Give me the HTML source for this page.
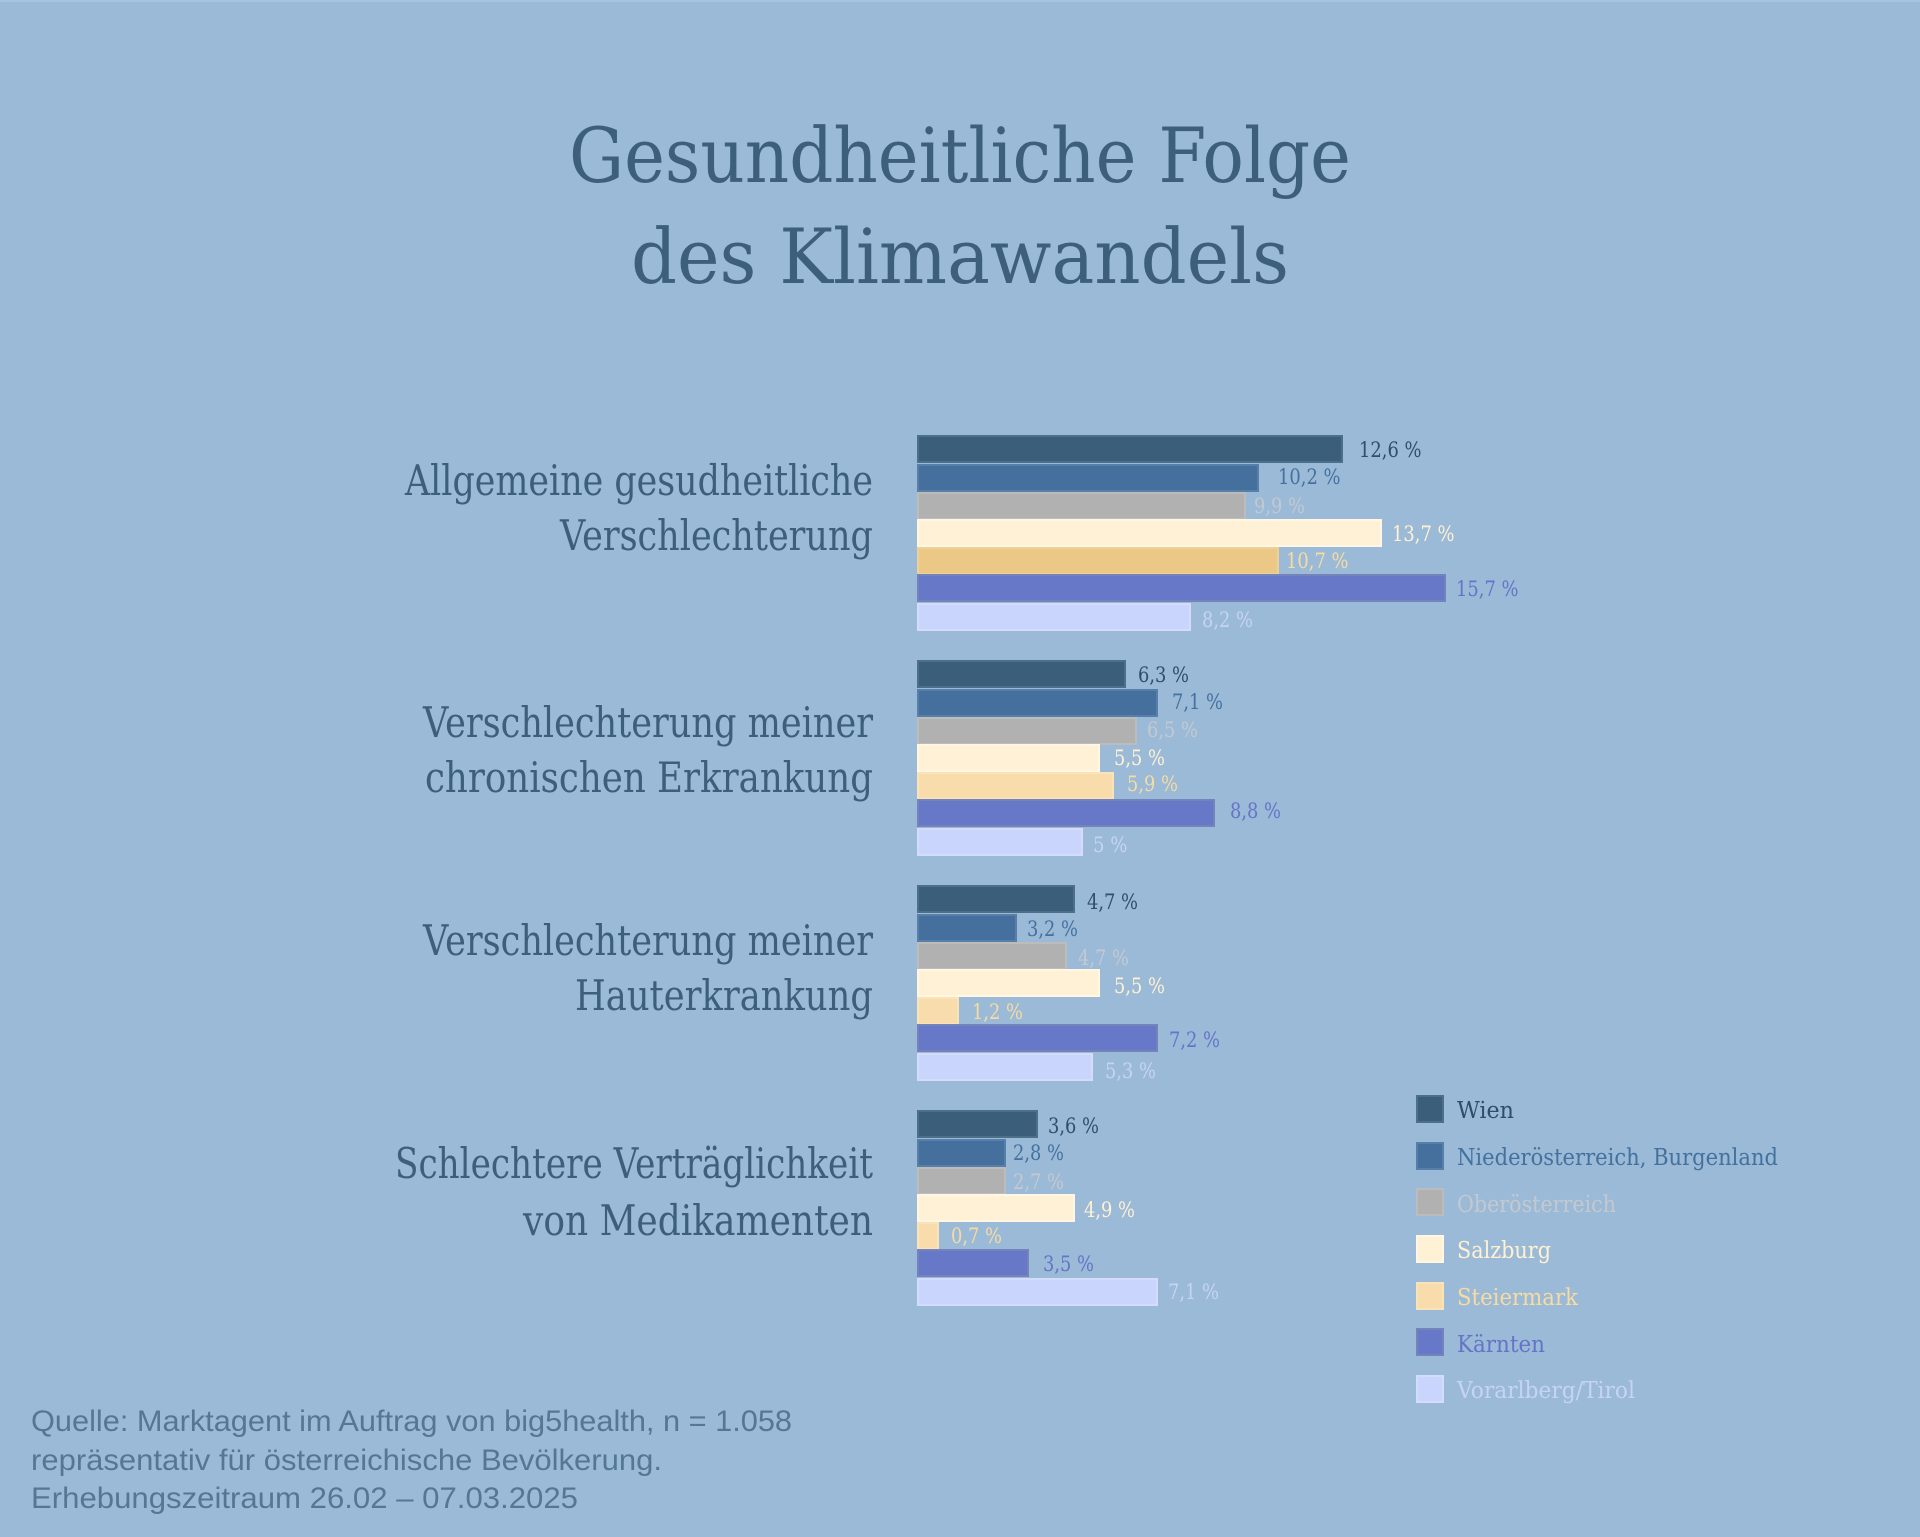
<!DOCTYPE html>
<html><head><meta charset="utf-8"><style>
html,body{margin:0;padding:0;background:#9bbad7;}
svg{display:block;}
</style></head><body>
<svg width="1920" height="1537" viewBox="0 0 1920 1537" xmlns="http://www.w3.org/2000/svg">
<rect x="0" y="0" width="1920" height="1537" fill="#9bbad7"/>
<rect x="0" y="0" width="1920" height="2" fill="#a9c4de"/>
<g font-family="'DejaVu Serif','Liberation Serif',serif" fill="#3e5f7b">
<text x="569" y="182" font-size="76" textLength="782" lengthAdjust="spacingAndGlyphs">Gesundheitliche Folge</text>
<text x="631" y="283" font-size="76" textLength="658" lengthAdjust="spacingAndGlyphs">des Klimawandels</text>
</g>
<g font-family="'DejaVu Serif','Liberation Serif',serif" fill="#3e5f7b" font-size="42">
<text x="405" y="495" textLength="468" lengthAdjust="spacingAndGlyphs">Allgemeine gesudheitliche</text>
<text x="560" y="550" textLength="313" lengthAdjust="spacingAndGlyphs">Verschlechterung</text>
<text x="423" y="737" textLength="450" lengthAdjust="spacingAndGlyphs">Verschlechterung meiner</text>
<text x="425" y="792" textLength="448" lengthAdjust="spacingAndGlyphs">chronischen Erkrankung</text>
<text x="423" y="955" textLength="450" lengthAdjust="spacingAndGlyphs">Verschlechterung meiner</text>
<text x="575" y="1010" textLength="298" lengthAdjust="spacingAndGlyphs">Hauterkrankung</text>
<text x="395" y="1178" textLength="478" lengthAdjust="spacingAndGlyphs">Schlechtere Verträglichkeit</text>
<text x="523" y="1235" textLength="350" lengthAdjust="spacingAndGlyphs">von Medikamenten</text>
</g>
<g stroke-width="2">
<!-- G1 -->
<rect x="918" y="436" width="424" height="26" fill="#3b5f7b" stroke="#4d7089"/>
<rect x="918" y="465" width="340" height="26" fill="#45709d" stroke="#5780a8"/>
<rect x="918" y="493" width="327" height="26" fill="#b1b1b1" stroke="#bcbcbc"/>
<rect x="918" y="520" width="463" height="26" fill="#fff1d6" stroke="#fff6e4"/>
<rect x="918" y="548" width="360" height="26" fill="#ebc886" stroke="#efd095"/>
<rect x="918" y="575" width="527" height="26" fill="#6878c9" stroke="#7583bb"/>
<rect x="918" y="604" width="272" height="26" fill="#c9d5fd" stroke="#d3ddfb"/>
<!-- G2 -->
<rect x="918" y="661" width="207" height="26" fill="#3b5f7b" stroke="#4d7089"/>
<rect x="918" y="690" width="239" height="26" fill="#45709d" stroke="#5780a8"/>
<rect x="918" y="718" width="218" height="26" fill="#b1b1b1" stroke="#bcbcbc"/>
<rect x="918" y="745" width="181" height="26" fill="#fff1d6" stroke="#fff6e4"/>
<rect x="918" y="773" width="195" height="26" fill="#f8dcab" stroke="#fbe3b8"/>
<rect x="918" y="800" width="296" height="26" fill="#6878c9" stroke="#7583bb"/>
<rect x="918" y="829" width="164" height="26" fill="#c9d5fd" stroke="#d3ddfb"/>
<!-- G3 -->
<rect x="918" y="886" width="156" height="26" fill="#3b5f7b" stroke="#4d7089"/>
<rect x="918" y="915" width="98" height="26" fill="#45709d" stroke="#5780a8"/>
<rect x="918" y="943" width="148" height="26" fill="#b1b1b1" stroke="#bcbcbc"/>
<rect x="918" y="970" width="181" height="26" fill="#fff1d6" stroke="#fff6e4"/>
<rect x="918" y="998" width="40" height="26" fill="#f8dcab" stroke="#fbe3b8"/>
<rect x="918" y="1025" width="239" height="26" fill="#6878c9" stroke="#7583bb"/>
<rect x="918" y="1054" width="174" height="26" fill="#c9d5fd" stroke="#d3ddfb"/>
<!-- G4 -->
<rect x="918" y="1111" width="119" height="26" fill="#3b5f7b" stroke="#4d7089"/>
<rect x="918" y="1140" width="87" height="26" fill="#45709d" stroke="#5780a8"/>
<rect x="918" y="1168" width="87" height="26" fill="#b1b1b1" stroke="#bcbcbc"/>
<rect x="918" y="1195" width="156" height="26" fill="#fff1d6" stroke="#fff6e4"/>
<rect x="918" y="1223" width="20" height="26" fill="#f8dcab" stroke="#fbe3b8"/>
<rect x="918" y="1250" width="110" height="26" fill="#6878c9" stroke="#7583bb"/>
<rect x="918" y="1279" width="239" height="26" fill="#c9d5fd" stroke="#d3ddfb"/>
</g>
<g font-family="'DejaVu Serif','Liberation Serif',serif" font-size="21">
<!-- G1 labels -->
<text x="1359" y="457" fill="#2f4e68" textLength="62.5" lengthAdjust="spacingAndGlyphs">12,6 %</text>
<text x="1278" y="484" fill="#44719e" textLength="62.5" lengthAdjust="spacingAndGlyphs">10,2 %</text>
<text x="1254" y="513" fill="#c4c9d0" textLength="51" lengthAdjust="spacingAndGlyphs">9,9 %</text>
<text x="1392" y="541" fill="#fff1d2" textLength="62.5" lengthAdjust="spacingAndGlyphs">13,7 %</text>
<text x="1286" y="568" fill="#f6dba2" textLength="62.5" lengthAdjust="spacingAndGlyphs">10,7 %</text>
<text x="1456" y="596" fill="#6474c7" textLength="62.5" lengthAdjust="spacingAndGlyphs">15,7 %</text>
<text x="1202" y="627" fill="#c6d3f7" textLength="51" lengthAdjust="spacingAndGlyphs">8,2 %</text>
<!-- G2 labels -->
<text x="1138" y="682" fill="#2f4e68" textLength="51" lengthAdjust="spacingAndGlyphs">6,3 %</text>
<text x="1172" y="709" fill="#44719e" textLength="51" lengthAdjust="spacingAndGlyphs">7,1 %</text>
<text x="1147" y="737" fill="#c4c9d0" textLength="51" lengthAdjust="spacingAndGlyphs">6,5 %</text>
<text x="1114" y="765" fill="#fff1d2" textLength="51" lengthAdjust="spacingAndGlyphs">5,5 %</text>
<text x="1127" y="791" fill="#f6dba2" textLength="51" lengthAdjust="spacingAndGlyphs">5,9 %</text>
<text x="1230" y="818" fill="#6474c7" textLength="51" lengthAdjust="spacingAndGlyphs">8,8 %</text>
<text x="1093" y="852" fill="#c6d3f7" textLength="34.5" lengthAdjust="spacingAndGlyphs">5 %</text>
<!-- G3 labels -->
<text x="1087" y="909" fill="#2f4e68" textLength="51" lengthAdjust="spacingAndGlyphs">4,7 %</text>
<text x="1027" y="936" fill="#44719e" textLength="51" lengthAdjust="spacingAndGlyphs">3,2 %</text>
<text x="1078" y="965" fill="#c4c9d0" textLength="51" lengthAdjust="spacingAndGlyphs">4,7 %</text>
<text x="1114" y="993" fill="#fff1d2" textLength="51" lengthAdjust="spacingAndGlyphs">5,5 %</text>
<text x="972" y="1019" fill="#f6dba2" textLength="51" lengthAdjust="spacingAndGlyphs">1,2 %</text>
<text x="1169" y="1047" fill="#6474c7" textLength="51" lengthAdjust="spacingAndGlyphs">7,2 %</text>
<text x="1105" y="1078" fill="#c6d3f7" textLength="51" lengthAdjust="spacingAndGlyphs">5,3 %</text>
<!-- G4 labels -->
<text x="1048" y="1133" fill="#2f4e68" textLength="51" lengthAdjust="spacingAndGlyphs">3,6 %</text>
<text x="1013" y="1160" fill="#44719e" textLength="51" lengthAdjust="spacingAndGlyphs">2,8 %</text>
<text x="1013" y="1189" fill="#c4c9d0" textLength="51" lengthAdjust="spacingAndGlyphs">2,7 %</text>
<text x="1084" y="1217" fill="#fff1d2" textLength="51" lengthAdjust="spacingAndGlyphs">4,9 %</text>
<text x="951" y="1243" fill="#f6dba2" textLength="51" lengthAdjust="spacingAndGlyphs">0,7 %</text>
<text x="1043" y="1271" fill="#6474c7" textLength="51" lengthAdjust="spacingAndGlyphs">3,5 %</text>
<text x="1168" y="1299" fill="#c6d3f7" textLength="51" lengthAdjust="spacingAndGlyphs">7,1 %</text>
</g>
<!-- Legend -->
<g stroke-width="2">
<rect x="1417" y="1096" width="26" height="26" fill="#3b5f7b" stroke="#4d7089"/>
<rect x="1417" y="1143" width="26" height="26" fill="#45709d" stroke="#5780a8"/>
<rect x="1417" y="1189" width="26" height="26" fill="#b1b1b1" stroke="#bcbcbc"/>
<rect x="1417" y="1236" width="26" height="26" fill="#fff1d6" stroke="#fff6e4"/>
<rect x="1417" y="1283" width="26" height="26" fill="#f8dcab" stroke="#fbe3b8"/>
<rect x="1417" y="1329" width="26" height="26" fill="#6878c9" stroke="#7583bb"/>
<rect x="1417" y="1376" width="26" height="26" fill="#c9d5fd" stroke="#d3ddfb"/>
</g>
<g font-family="'DejaVu Serif','Liberation Serif',serif" font-size="23">
<text x="1457" y="1118" fill="#2f4e68" textLength="57" lengthAdjust="spacingAndGlyphs">Wien</text>
<text x="1457" y="1165" fill="#44719e" textLength="321" lengthAdjust="spacingAndGlyphs">Niederösterreich, Burgenland</text>
<text x="1457" y="1212" fill="#c4c9d0" textLength="159" lengthAdjust="spacingAndGlyphs">Oberösterreich</text>
<text x="1457" y="1258" fill="#fff1d2" textLength="94" lengthAdjust="spacingAndGlyphs">Salzburg</text>
<text x="1457" y="1305" fill="#f6dba2" textLength="121" lengthAdjust="spacingAndGlyphs">Steiermark</text>
<text x="1457" y="1352" fill="#6474c7" textLength="88" lengthAdjust="spacingAndGlyphs">Kärnten</text>
<text x="1457" y="1398" fill="#c6d3f7" textLength="178" lengthAdjust="spacingAndGlyphs">Vorarlberg/Tirol</text>
</g>
<!-- Footer -->
<g font-family="'Liberation Sans',sans-serif" font-size="30" fill="#567791">
<text x="31" y="1431" textLength="761" lengthAdjust="spacingAndGlyphs">Quelle: Marktagent im Auftrag von big5health, n = 1.058</text>
<text x="31" y="1470" textLength="631" lengthAdjust="spacingAndGlyphs">repräsentativ für österreichische Bevölkerung.</text>
<text x="31" y="1508" textLength="547" lengthAdjust="spacingAndGlyphs">Erhebungszeitraum 26.02 – 07.03.2025</text>
</g>
</svg>
</body></html>
